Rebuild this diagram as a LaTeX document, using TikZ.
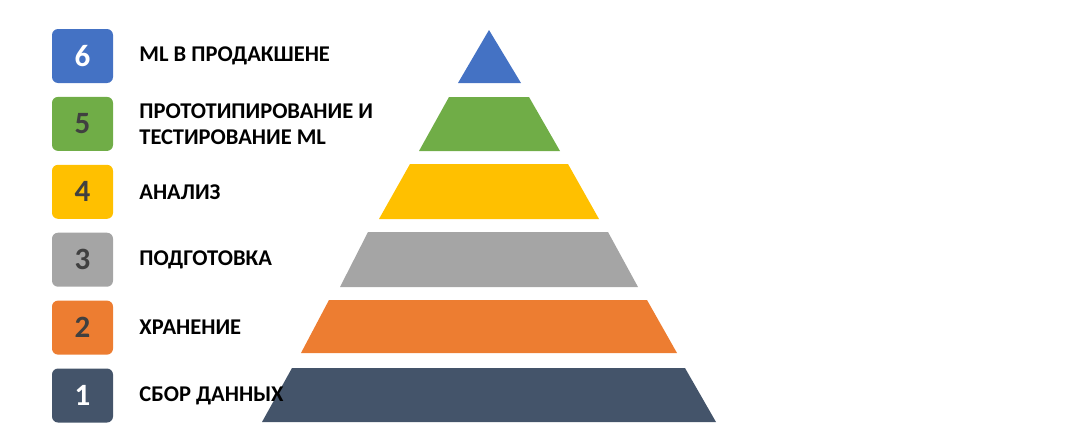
\documentclass[tikz,border=0pt]{standalone}
\usepackage{fontspec}
\setmainfont{Carlito}
\usetikzlibrary{positioning}
\definecolor{lvlblue}{HTML}{4472C4}
\definecolor{lvlgreen}{HTML}{70AD47}
\definecolor{lvlyellow}{HTML}{FFC000}
\definecolor{lvlgray}{HTML}{A5A5A5}
\definecolor{lvlorange}{HTML}{ED7D31}
\definecolor{lvlnavy}{HTML}{44546A}
\definecolor{numgray}{HTML}{404040}

\begin{document}
\begin{tikzpicture}[x=1pt,y=-1pt,
	numbox/.style={
	minimum width=61pt,
	minimum height=54pt,
	inner sep=0pt,
	rounded corners=6pt,
	font=\bfseries\fontsize{31}{31}\selectfont
	},
	lvltext/.style={
	anchor=west,
	align=left,
	inner sep=0pt,
	font=\bfseries\fontsize{22.5}{26}\selectfont
	}]

	\useasboundingbox (0,0) rectangle (1077,423);

	% pyramid layers, top to bottom
	\fill[lvlblue]   (458,83)  -- (489,30)  -- (521,83)  -- cycle;
	\fill[lvlgreen]  (449,97)  -- (529,97)  -- (560,151) -- (419,151) -- cycle;
	\fill[lvlyellow] (410,164) -- (568,164) -- (599,219) -- (379,219) -- cycle;
	\fill[lvlgray]   (368,232) -- (608,232) -- (638,287) -- (340,287) -- cycle;
	\fill[lvlorange] (329,300) -- (647,300) -- (677,353) -- (301,353) -- cycle;
	\fill[lvlnavy]   (292,368) -- (685,368) -- (716,422) -- (262,422) -- cycle;

	% numbered boxes
	\node[numbox, fill=lvlblue, text=white] (n6) at (82.5,56) {6};
	\node[numbox, fill=lvlgreen, text=numgray, below=13.5pt of n6] (n5) {5};
	\node[numbox, fill=lvlyellow, text=numgray, below=13.5pt of n5] (n4) {4};
	\node[numbox, fill=lvlgray, text=numgray, below=13.5pt of n4] (n3) {3};
	\node[numbox, fill=lvlorange, text=numgray, below=13.5pt of n3] (n2) {2};
	\node[numbox, fill=lvlnavy, text=white, below=13.5pt of n2] (n1) {1};

	% level names
	\node[lvltext, right=26pt of n6] (t6) {ML В ПРОДАКШЕНЕ};
	\node[lvltext, right=26pt of n5] (t5) {ПРОТОТИПИРОВАНИЕ И\\ТЕСТИРОВАНИЕ ML};
	\node[lvltext, right=26pt of n4] (t4) {АНАЛИЗ};
	\node[lvltext, right=26pt of n3] (t3) {ПОДГОТОВКА};
	\node[lvltext, right=26pt of n2] (t2) {ХРАНЕНИЕ};
	\node[lvltext, right=26pt of n1] (t1) {СБОР ДАННЫХ};

\end{tikzpicture}
\end{document}
